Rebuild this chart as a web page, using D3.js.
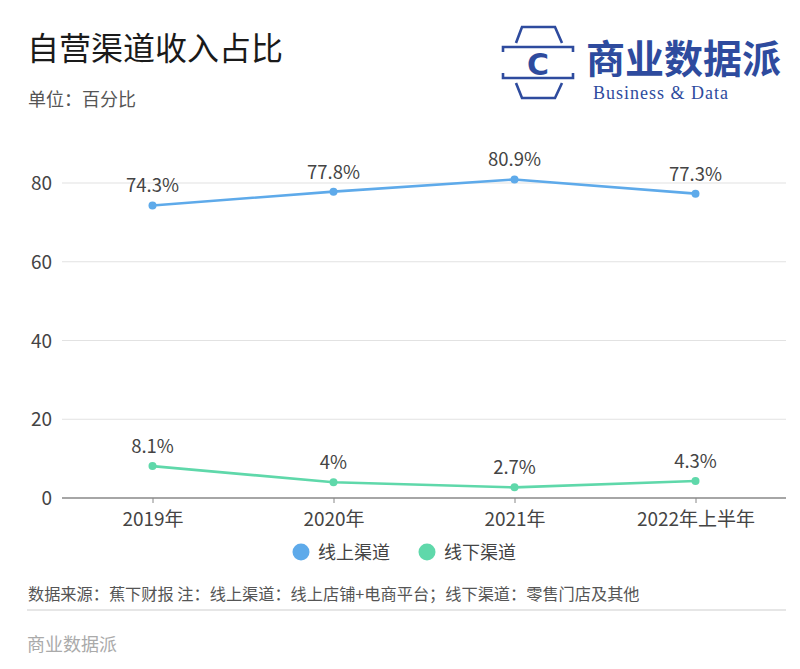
<!DOCTYPE html>
<html><head><meta charset="utf-8">
<script src="https://cdn.jsdelivr.net/npm/d3@7"></script>
<style>
html,body{margin:0;padding:0;background:#fff;}
svg{display:block;}
</style></head>
<body>
<script>
const categories = ["2019年","2020年","2021年","2022年上半年"];
const onlineValues = [74.3, 77.8, 80.9, 77.3];
const offlineValues = [8.1, 4, 2.7, 4.3];
const onlineLabels = ["74.3%","77.8%","80.9%","77.3%"];
const offlineLabels = ["8.1%","4%","2.7%","4.3%"];
const yTicks = [0, 20, 40, 60, 80];
const seriesNames = ["线上渠道","线下渠道"];

const W = 800, H = 669;
const FONT = "'Noto Sans CJK SC','Noto Sans',sans-serif";
const blue = "#5eaaea", green = "#5fd8aa", logoBlue = "#2e4b9e";

const svg = d3.select("body").append("svg").attr("width", W).attr("height", H)
  .style("font-family", FONT);

// Title
svg.append("text").attr("x", 27).attr("y", 60).text("自营渠道收入占比")
  .attr("font-size", 32).attr("fill", "#1a1a1a").attr("font-weight", 400);
svg.append("text").attr("x", 28).attr("y", 106).text("单位：百分比")
  .attr("font-size", 18).attr("fill", "#555");

// Logo
const lg = svg.append("g").attr("fill", "none").attr("stroke", logoBlue).attr("stroke-width", 2.6);
lg.append("path").attr("d", "M516,43 L522,27 L555,27 L562,43");
lg.append("path").attr("d", "M516,83 L522,98 L555,98 L562,83");
lg.append("path").attr("d", "M503,52 L503,47 L573,47 L573,52");
lg.append("path").attr("d", "M503,73 L503,78 L573,78 L573,73");
svg.append("text").attr("x", 538).attr("y", 75).attr("text-anchor", "middle")
  .text("C").attr("font-size", 30).attr("font-weight", "bold").attr("fill", logoBlue)
  .attr("font-family", "'DejaVu Sans',sans-serif");
svg.append("text").attr("x", 586).attr("y", 73).text("商业数据派")
  .attr("font-size", 39).attr("font-weight", 700).attr("fill", logoBlue);
svg.append("text").attr("x", 593).attr("y", 99).text("Business & Data")
  .attr("font-size", 18).attr("fill", logoBlue).attr("font-family", "'Liberation Serif',serif")
  .attr("letter-spacing", 1);

// Scales
const x = d3.scalePoint().domain(categories).range([62, 786]).padding(0.5);
const y = d3.scaleLinear().domain([0, 80]).range([498, 183]);

// Grid
svg.append("g").selectAll("line").data(yTicks.filter(d => d > 0)).join("line")
  .attr("x1", 62).attr("x2", 786).attr("y1", d => y(d)).attr("y2", d => y(d))
  .attr("stroke", "#e2e2e2").attr("stroke-width", 1.2);

// Y axis labels
const yAxis = d3.axisLeft(y).tickValues(yTicks).tickSize(0).tickPadding(0);
const gy = svg.append("g").attr("transform", "translate(52,0)").call(yAxis);
gy.select(".domain").remove();
gy.selectAll("text").attr("font-size", 19).attr("fill", "#444").attr("font-family", FONT)
  .attr("dy", "0.35em");

// X axis
const xAxis = d3.axisBottom(x).tickSize(5).tickPadding(10).tickSizeOuter(0);
const gx = svg.append("g").attr("transform", `translate(0,${y(0)})`).call(xAxis);
gx.select(".domain").attr("stroke", "#888").attr("stroke-width", 1.6).attr("d", "M62,0H786");
gx.selectAll(".tick line").attr("stroke", "#888");
gx.selectAll("text").attr("font-size", 19).attr("fill", "#444").attr("font-family", FONT);

// Lines
const line = d3.line().x((d, i) => x(categories[i])).y(d => y(d));
function drawSeries(vals, labels, color) {
  svg.append("path").datum(vals).attr("d", line).attr("fill", "none")
    .attr("stroke", color).attr("stroke-width", 2.6);
  svg.append("g").selectAll("circle").data(vals).join("circle")
    .attr("cx", (d, i) => x(categories[i])).attr("cy", d => y(d)).attr("r", 4)
    .attr("fill", color);
  svg.append("g").selectAll("text").data(vals).join("text")
    .attr("x", (d, i) => x(categories[i])).attr("y", d => y(d) - 13)
    .attr("text-anchor", "middle").attr("font-size", 18.5).attr("fill", "#444")
    .text((d, i) => labels[i]);
}
drawSeries(onlineValues, onlineLabels, blue);
drawSeries(offlineValues, offlineLabels, green);

// Legend
const legendX = [301, 427];
const colors = [blue, green];
const leg = svg.append("g");
seriesNames.forEach((n, i) => {
  leg.append("circle").attr("cx", legendX[i]).attr("cy", 552).attr("r", 8.5).attr("fill", colors[i]);
  leg.append("text").attr("x", legendX[i] + 17).attr("y", 558.5).text(n)
    .attr("font-size", 18).attr("fill", "#444");
});

// Footer
svg.append("text").attr("x", 28).attr("y", 599.5)
  .text("数据来源：蕉下财报 注：线上渠道：线上店铺+电商平台；线下渠道：零售门店及其他")
  .attr("font-size", 16.2).attr("fill", "#555");
svg.append("line").attr("x1", 27).attr("x2", 786).attr("y1", 610).attr("y2", 610)
  .attr("stroke", "#e6e6e6").attr("stroke-width", 2);
svg.append("text").attr("x", 27).attr("y", 651).text("商业数据派")
  .attr("font-size", 18).attr("fill", "#aaa");
</script>
</body></html>
